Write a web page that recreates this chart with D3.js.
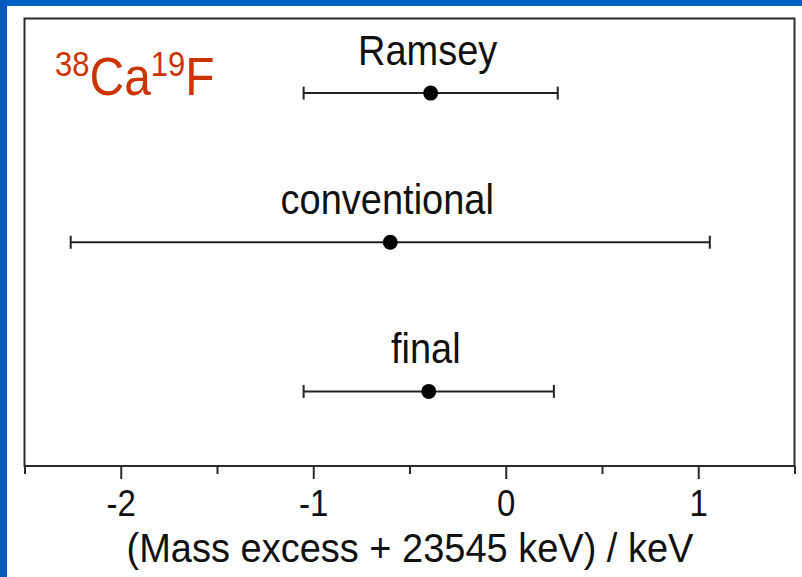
<!DOCTYPE html>
<html>
<head>
<meta charset="utf-8">
<script src="https://cdn.jsdelivr.net/npm/d3@7"></script>
<style>
  html, body { margin: 0; padding: 0; background: #fff; }
  svg { display: block; }
  text { font-family: "Liberation Sans", Arial, sans-serif; }
</style>
</head>
<body>
<svg id="chart" width="802" height="577"></svg>
<script>
// Mass-excess results for 38Ca19F (keV, offset by +23545 keV)
const methods = ["Ramsey", "conventional", "final"];
const values = [-0.39, -0.60, -0.40];
const uncertainties = [0.66, 1.66, 0.65];
const xTickValues = [-2, -1, 0, 1];
const xMinorTicks = [-2.5, -1.5, -0.5, 0.5, 1.5];
const xDomain = [-2.5, 1.5];
const axisTitle = "(Mass excess + 23545 keV) / keV";

const W = 802, H = 577;
const frame = { left: 24.5, right: 794.5, top: 18.5, bottom: 466 };
const textStretch = 1.12;   // glyphs are drawn a little taller than wide
const svg = d3.select("#chart");

// slide background edges
svg.append("rect").attr("x", 0).attr("y", 0).attr("width", W).attr("height", 6).attr("fill", "#0062c4");
svg.append("rect").attr("x", 0).attr("y", 0).attr("width", 7).attr("height", H).attr("fill", "#0059bd");

const x = d3.scaleLinear().domain(xDomain).range([frame.left, frame.right]);
const y = d3.scalePoint().domain(methods).range([frame.top, frame.bottom]).padding(0.5);

const ink = "#222";

// places a text node at (tx, ty) with a vertical stretch applied about its baseline
function placeText(sel, tx, ty, sy = textStretch) {
  return sel.attr("x", 0).attr("y", 0)
    .attr("transform", `translate(${tx},${ty}) scale(1,${sy})`);
}

// plot frame
svg.append("rect")
  .attr("x", frame.left).attr("y", frame.top)
  .attr("width", frame.right - frame.left).attr("height", frame.bottom - frame.top)
  .attr("fill", "none").attr("stroke", "#2a2a2a").attr("stroke-width", 2);

// minor ticks
svg.append("g")
  .attr("transform", `translate(0,${frame.bottom})`)
  .call(d3.axisBottom(x).tickValues(xMinorTicks).tickSize(8).tickFormat(""))
  .call(g => g.select(".domain").remove())
  .call(g => g.selectAll("line").attr("stroke", "#2a2a2a").attr("stroke-width", 2));

// major ticks and labels
const xAxis = svg.append("g")
  .attr("transform", `translate(0,${frame.bottom})`)
  .call(d3.axisBottom(x).tickValues(xTickValues).tickSize(13).tickFormat(""))
  .call(g => g.select(".domain").remove())
  .call(g => g.selectAll("line").attr("stroke", "#2a2a2a").attr("stroke-width", 2));

xAxis.selectAll(".tick").append("text")
  .attr("text-anchor", "middle")
  .attr("fill", "#111")
  .attr("font-size", 33)
  .attr("font-family", "'Liberation Sans', Arial, sans-serif")
  .attr("transform", `translate(0,50) scale(1,1.14)`)
  .text(d => d < 0 ? "-" + Math.abs(d) : String(d));

placeText(svg.append("text"), 410, 562, 1.08)
  .attr("text-anchor", "middle")
  .attr("font-size", 38)
  .attr("fill", "#111")
  .text(axisTitle);

const rows = methods.map((m, i) => ({ m, v: values[i], e: uncertainties[i] }));

const g = svg.append("g");
const row = g.selectAll("g.row").data(rows).join("g").attr("class", "row");

row.append("line")
  .attr("x1", d => x(d.v - d.e)).attr("x2", d => x(d.v + d.e))
  .attr("y1", d => y(d.m)).attr("y2", d => y(d.m))
  .attr("stroke", ink).attr("stroke-width", 2);

row.selectAll("line.cap")
  .data(d => [{ m: d.m, xv: d.v - d.e }, { m: d.m, xv: d.v + d.e }])
  .join("line").attr("class", "cap")
  .attr("x1", d => x(d.xv)).attr("x2", d => x(d.xv))
  .attr("y1", d => y(d.m) - 6.5).attr("y2", d => y(d.m) + 6.5)
  .attr("stroke", ink).attr("stroke-width", 2);

row.append("circle")
  .attr("cx", d => x(d.v)).attr("cy", d => y(d.m))
  .attr("r", 7.5).attr("fill", "#000");

row.append("text")
  .each(function (d) { placeText(d3.select(this), x(d.v) - 3, y(d.m) - 28); })
  .attr("text-anchor", "middle")
  .attr("font-size", 38)
  .attr("fill", "#111")
  .text(d => d.m);

// molecule label
const mol = placeText(svg.append("text"), 55, 95)
  .attr("fill", "#cc3300")
  .attr("font-size", 48);
mol.append("tspan").attr("font-size", 31).attr("dy", -17).text("38");
mol.append("tspan").attr("dy", 17).text("Ca");
mol.append("tspan").attr("font-size", 31).attr("dy", -17).text("19");
mol.append("tspan").attr("dy", 17).text("F");
</script>
</body>
</html>
